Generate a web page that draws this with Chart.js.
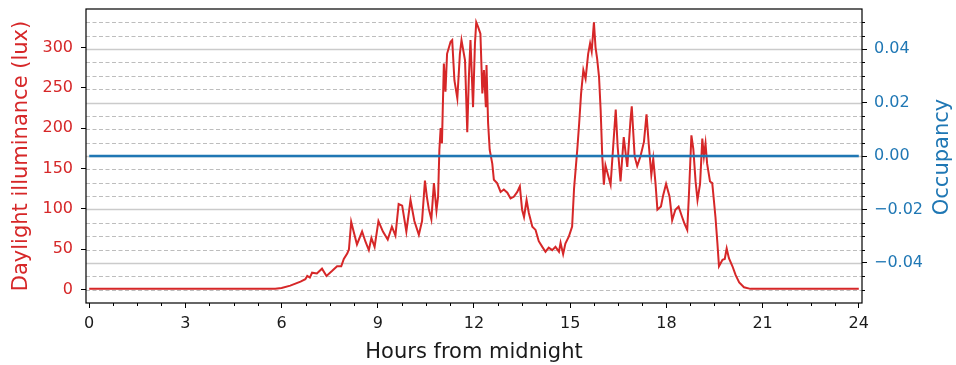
<!DOCTYPE html>
<html>
<head>
<meta charset="utf-8">
<script src="https://cdn.jsdelivr.net/npm/chart.js@4.4.1/dist/chart.umd.min.js"></script>
<style>
  html, body { margin: 0; padding: 0; background: #fff; }
  #wrap { width: 956px; height: 365px; position: relative; }
</style>
</head>
<body>
<div id="wrap"><canvas id="c"></canvas></div>
<script>
'use strict';

// ── Data ──────────────────────────────────────────────────
const HOURS = [
  0, 5.8, 6.0, 6.27, 6.59, 6.74, 6.80, 6.88, 6.95, 7.10, 7.26, 7.40, 7.57, 7.73, 7.86, 7.94,
  8.05, 8.10, 8.17, 8.26, 8.35, 8.51, 8.61, 8.72, 8.80, 8.90, 9.02, 9.16, 9.31, 9.44, 9.55,
  9.65, 9.76, 9.89, 10.02, 10.14, 10.28, 10.38, 10.47, 10.53, 10.59, 10.67, 10.75, 10.83,
  10.88, 10.92, 10.96, 11.00, 11.06, 11.11, 11.16, 11.27, 11.32, 11.39, 11.48, 11.56, 11.61,
  11.72, 11.79, 11.84, 11.89, 11.97, 12.03, 12.07, 12.13, 12.20, 12.26, 12.31, 12.37, 12.39,
  12.44, 12.49, 12.57, 12.62, 12.72, 12.83, 12.93, 13.04, 13.14, 13.24, 13.35, 13.43, 13.50,
  13.56, 13.64, 13.71, 13.82, 13.92, 14.02, 14.13, 14.23, 14.33, 14.44, 14.54, 14.65, 14.70,
  14.78, 14.85, 14.96, 15.06, 15.12, 15.22, 15.28, 15.34, 15.41, 15.48, 15.56, 15.62, 15.67,
  15.74, 15.79, 15.84, 15.90, 15.95, 16.00, 16.05, 16.10, 16.18, 16.26, 16.34, 16.42, 16.48,
  16.57, 16.67, 16.78, 16.88, 16.92, 17.01, 17.09, 17.19, 17.30, 17.38, 17.45, 17.53, 17.59,
  17.66, 17.72, 17.83, 17.90, 17.99, 18.10, 18.18, 18.28, 18.38, 18.49, 18.56, 18.65, 18.70,
  18.78, 18.84, 18.91, 18.97, 19.05, 19.12, 19.17, 19.22, 19.27, 19.36, 19.43, 19.48, 19.53,
  19.59, 19.64, 19.75, 19.82, 19.88, 19.95, 20.06, 20.16, 20.27, 20.42, 20.62, 24
];
const LUX = [
  1, 1, 2, 5, 10, 13, 17, 15, 21, 20, 26, 17, 23, 29, 29, 38,
  45, 50, 84, 70, 56, 72, 60, 49, 64, 53, 85, 72, 62, 78, 67,
  106, 104, 72, 111, 85, 68, 85, 135, 115, 100, 87, 132, 98,
  115, 173, 200, 181, 280, 245, 292, 307, 309, 259, 237, 292, 309,
  284, 195, 263, 309, 226, 305, 331, 325, 317, 243, 272, 226, 278,
  206, 173, 156, 136, 132, 121, 124, 120, 113, 115, 121, 128, 99,
  90, 111, 95, 78, 74, 60, 53, 47, 52, 49, 53, 47, 58,
  44, 57, 66, 78, 125, 173, 206, 243, 272, 261, 292, 305, 295,
  331, 300, 286, 263, 222, 165, 130, 154, 142, 130, 177, 223, 177,
  134, 189, 152, 210, 227, 165, 153, 165, 183, 217, 180, 142, 162,
  132, 99, 103, 117, 131, 115, 86, 99, 103, 90, 82, 74, 115,
  191, 174, 134, 111, 131, 187, 165, 181, 156, 134, 132, 111, 90,
  58, 29, 37, 38, 51, 39, 29, 18, 9, 3, 1, 1
];
const OCC_HOURS = [0, 24];
const OCC = [0, 0];

const X_TICKS = [0, 3, 6, 9, 12, 15, 18, 21, 24];
const LUX_TICKS = [0, 50, 100, 150, 200, 250, 300];
const OCC_TICKS = [-0.04, -0.02, 0, 0.02, 0.04];

// ── Style ─────────────────────────────────────────────────
const RED = '#d62728', BLUE = '#1f77b4', INK = '#1a1a1a';
const FONT = 'DejaVu Sans';
const fmtOcc = v => (v < 0 ? '\u2212' : '') + Math.abs(v).toFixed(2);
const fixTicks = list => s => { s.ticks = list.map(value => ({ value })); };
const box = (w, h) => s => {
  if (w != null) s.width = w;
  if (h != null) s.height = h;
  s.paddingTop = s.paddingBottom = s.paddingLeft = s.paddingRight = 0;
};

// grid lines (solid on right-axis majors, dashed on minors), frame, minor ticks,
// and the right-hand title that reads bottom-to-top like matplotlib's
const mplDecor = {
  id: 'mplDecor',
  beforeDatasetsDraw(chart) {
    const { ctx, chartArea: a, scales } = chart;
    ctx.save();
    for (let i = -10; i <= 10; i++) {
      const py = Math.round(scales.y2.getPixelForValue(i * 0.005)) + 0.5;
      if (py < a.top || py > a.bottom) continue;
      const major = i % 4 === 0;
      ctx.setLineDash(major ? [] : [4, 2.5]);
      ctx.strokeStyle = major ? '#cbcbcb' : '#bdbdbd';
      ctx.lineWidth = major ? 1.5 : 1;
      ctx.beginPath(); ctx.moveTo(a.left, py); ctx.lineTo(a.right, py); ctx.stroke();
    }
    ctx.restore();
  },
  afterDatasetsDraw(chart) {
    const { ctx, chartArea: a, scales } = chart;
    ctx.save();
    ctx.strokeStyle = '#000';
    ctx.lineWidth = 1;
    ctx.beginPath();
    for (let h = 0; h <= 24.001; h += 0.75) {
      if (Math.abs(h / 3 - Math.round(h / 3)) < 1e-6) continue;
      const px = Math.round(scales.x.getPixelForValue(h)) + 0.5;
      ctx.moveTo(px, a.bottom); ctx.lineTo(px, a.bottom + 3);
    }
    for (let i = -10; i <= 10; i++) {
      if (i % 4 === 0) continue;
      const py = Math.round(scales.y2.getPixelForValue(i * 0.005)) + 0.5;
      ctx.moveTo(a.right, py); ctx.lineTo(a.right + 3, py);
    }
    ctx.stroke();
    ctx.lineWidth = 1.2;
    ctx.strokeRect(a.left, a.top, a.right - a.left, a.bottom - a.top);

    ctx.translate(943, (a.top + a.bottom) / 2 + 1);
    ctx.rotate(-Math.PI / 2);
    ctx.fillStyle = BLUE;
    ctx.font = `21px "${FONT}"`;
    ctx.textAlign = 'center';
    ctx.textBaseline = 'middle';
    ctx.fillText('Occupancy', 0, 0);
    ctx.restore();
  }
};

const tickGrid = { display: true, drawOnChartArea: false, drawTicks: true, tickLength: 5, tickColor: '#000', tickWidth: 1 };

new Chart(document.getElementById('c'), {
  type: 'line',
  data: {
    datasets: [
      {
        label: 'Occupancy', yAxisID: 'y2', order: 0,
        data: OCC_HOURS.map((h, i) => ({ x: h, y: OCC[i] })),
        borderColor: BLUE, borderWidth: 2.5, pointRadius: 0, tension: 0
      },
      {
        label: 'Daylight illuminance', yAxisID: 'y', order: 1,
        data: HOURS.map((h, i) => ({ x: h, y: LUX[i] })),
        borderColor: RED, borderWidth: 2, pointRadius: 0, tension: 0
      }
    ]
  },
  options: {
    responsive: true, maintainAspectRatio: false, animation: false,
    devicePixelRatio: 1,
    layout: { padding: { top: 9, left: 0, right: 0, bottom: 0 } },
    plugins: { legend: { display: false }, tooltip: { enabled: false } },
    scales: {
      x: {
        type: 'linear', min: -0.1, max: 24.1,
        afterBuildTicks: fixTicks(X_TICKS),
        afterFit: box(null, 62),
        ticks: { color: INK, font: { family: FONT, size: 16 }, padding: 6, maxRotation: 0, autoSkip: false },
        grid: tickGrid,
        border: { display: false },
        title: { display: true, text: 'Hours from midnight', color: INK, font: { family: FONT, size: 21 }, padding: { top: 0, bottom: 0 } }
      },
      y: {
        position: 'left', min: -16.5, max: 347.5,
        afterBuildTicks: fixTicks(LUX_TICKS),
        afterFit: box(86, null),
        ticks: { color: RED, font: { family: FONT, size: 16 }, padding: 8 },
        grid: tickGrid,
        border: { display: false },
        title: { display: true, text: 'Daylight illuminance (lux)', color: RED, font: { family: FONT, size: 21 }, padding: { top: 9, bottom: 0 } }
      },
      y2: {
        position: 'right', min: -0.055, max: 0.055,
        afterBuildTicks: fixTicks(OCC_TICKS),
        afterFit: box(94, null),
        ticks: { color: BLUE, font: { family: FONT, size: 16 }, padding: 7, callback: fmtOcc },
        grid: tickGrid,
        border: { display: false },
        title: { display: false }
      }
    }
  },
  plugins: [mplDecor]
});
</script>
</body>
</html>
